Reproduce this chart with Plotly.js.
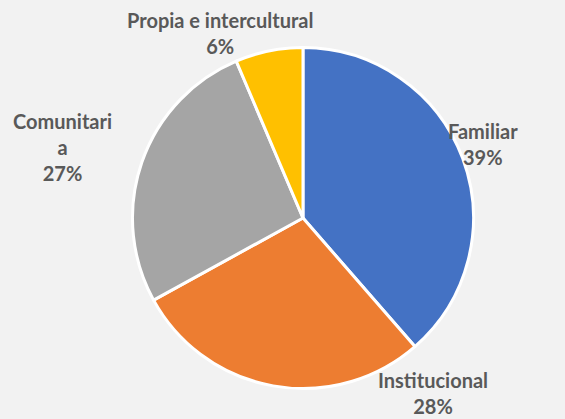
<!DOCTYPE html>
<html>
<head>
<meta charset="utf-8">
<script src="https://cdn.plot.ly/plotly-3.0.1.min.js"></script>
<style>
html,body{margin:0;padding:0;background:#F2F2F2;}
#chart{width:565px;height:419px;}
</style>
</head>
<body>
<div id="chart"></div>
<script>
var categories = ['Familiar', 'Institucional', 'Comunitaria', 'Propia e intercultural'];
var labelLines = ['Familiar', 'Institucional', 'Comunitari<br>a', 'Propia e intercultural'];
var values = [38.6, 28.4, 26.6, 6.4];
var colors = ['#4472C4', '#ED7D31', '#A5A5A5', '#FFC000'];

var total = values.reduce(function(a,b){return a+b;},0);
var labelPos = [
  {x: 483, y: 144},
  {x: 433, y: 393},
  {x: 62, y: 147},
  {x: 220, y: 33}
];
var annotations = categories.map(function(c, i){
  var pct = Math.round(values[i] / total * 100) + '%';
  return {
    xref: 'paper', yref: 'paper',
    x: labelPos[i].x / 565, y: 1 - labelPos[i].y / 419,
    xanchor: 'center', yanchor: 'middle',
    text: '<b>' + labelLines[i] + '<br>' + pct + '</b>',
    showarrow: false,
    align: 'center',
    font: {family: 'Lato, "Open Sans", sans-serif', size: 20, color: '#595959'}
  };
});

var trace = {
  type: 'pie',
  labels: categories,
  values: values,
  sort: false,
  direction: 'clockwise',
  rotation: 0,
  marker: {colors: colors, line: {color: '#FFFFFF', width: 3}},
  textinfo: 'none',
  hoverinfo: 'label+percent',
  domain: {x: [0.2345, 0.838], y: [0.0728, 0.8866]}
};

var layout = {
  width: 565, height: 419,
  margin: {l: 0, r: 0, t: 0, b: 0},
  paper_bgcolor: '#F2F2F2',
  plot_bgcolor: '#F2F2F2',
  showlegend: false,
  annotations: annotations
};

Plotly.newPlot('chart', [trace], layout, {displayModeBar: false, staticPlot: true});
</script>
</body>
</html>
